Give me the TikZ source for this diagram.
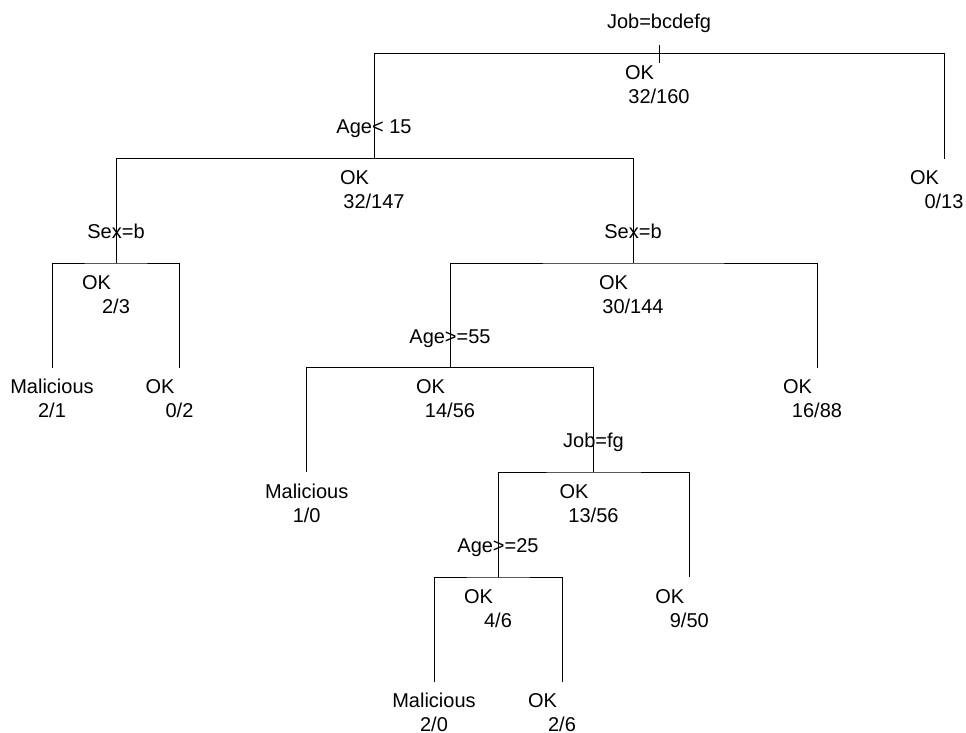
\documentclass[tikz,border=0pt]{standalone}
\usepackage{fontspec}
\setmainfont{Liberation Sans}
\begin{document}
\begin{tikzpicture}[x=1pt,y=-1pt,
    edge/.style={draw=black,line width=1pt},
    txt/.style={inner sep=0pt,outer sep=0pt,anchor=base,font=\fontsize{20}{24}\selectfont},
  ]
  \fill[white] (0,0) rectangle (966,733);
  \useasboundingbox (0,0) rectangle (966,733);

  % tree levels, 104.7 units apart
  \def\lA{53.5}\def\lB{158.5}\def\lC{263}\def\lD{367.5}\def\lE{472}\def\lF{577}\def\lG{681.7}

  % split points and leaves
  \coordinate (root) at (659,\lA);
  \coordinate (age15) at (374,\lB);
  \coordinate (leafR) at (944,\lB);
  \coordinate (sexL) at (116,\lC);
  \coordinate (sexR) at (633,\lC);
  \coordinate (leafLL) at (52,\lD);
  \coordinate (leafLR) at (179.5,\lD);
  \coordinate (age55) at (450,\lD);
  \coordinate (leaf1688) at (817,\lD);
  \coordinate (leaf10) at (306.7,\lE);
  \coordinate (jobfg) at (593.5,\lE);
  \coordinate (age25) at (498,\lF);
  \coordinate (leaf950) at (689.3,\lF);
  \coordinate (leaf20) at (434,\lG);
  \coordinate (leaf26) at (562,\lG);

  % branches: up from the left child, across, down to the right child
  \draw[edge] (age15) |- (root) -| (leafR);
  \draw[edge] (sexL) |- (age15) -| (sexR);
  \draw[edge] (leafLL) |- (sexL) -| (leafLR);
  \draw[edge] (age55) |- (sexR) -| (leaf1688);
  \draw[edge] (leaf10) |- (age55) -| (jobfg);
  \draw[edge] (age25) |- (jobfg) -| (leaf950);
  \draw[edge] (leaf20) |- (age25) -| (leaf26);
  % root tick
  \coordinate (tickT) at (659,45);
  \coordinate (tickB) at (659,63);
  \draw[edge] (tickT) -- (tickB);

  % split labels
  \node[txt] (s0) at ([yshift=24.5pt]root) {Job=bcdefg};
  \node[txt] (s1) at ([yshift=24.5pt]age15) {Age< 15};
  \node[txt] (s2) at ([yshift=24.5pt]sexL) {Sex=b};
  \node[txt] (s3) at ([yshift=24.5pt]sexR) {Sex=b};
  \node[txt] (s4) at ([yshift=24.5pt]age55) {Age>=55};
  \node[txt] (s5) at ([yshift=24.5pt]jobfg) {Job=fg};
  \node[txt] (s6) at ([yshift=24.5pt]age25) {Age>=25};

  % class labels
  \node[txt] (c0) at ([xshift=-19.5pt,yshift=-26pt]root) {OK};
  \node[txt] (c1) at ([xshift=-19.5pt,yshift=-26pt]age15) {OK};
  \node[txt] (c2) at ([xshift=-19.5pt,yshift=-26pt]leafR) {OK};
  \node[txt] (c3) at ([xshift=-19.5pt,yshift=-26pt]sexL) {OK};
  \node[txt] (c4) at ([xshift=-19.5pt,yshift=-26pt]sexR) {OK};
  \node[txt] (c5) at ([yshift=-26pt]leafLL) {Malicious};
  \node[txt] (c6) at ([xshift=-19.5pt,yshift=-26pt]leafLR) {OK};
  \node[txt] (c7) at ([xshift=-19.5pt,yshift=-26pt]age55) {OK};
  \node[txt] (c8) at ([xshift=-19.5pt,yshift=-26pt]leaf1688) {OK};
  \node[txt] (c9) at ([yshift=-26pt]leaf10) {Malicious};
  \node[txt] (c10) at ([xshift=-19.5pt,yshift=-26pt]jobfg) {OK};
  \node[txt] (c11) at ([xshift=-19.5pt,yshift=-26pt]age25) {OK};
  \node[txt] (c12) at ([xshift=-19.5pt,yshift=-26pt]leaf950) {OK};
  \node[txt] (c13) at ([yshift=-26pt]leaf20) {Malicious};
  \node[txt] (c14) at ([xshift=-19.5pt,yshift=-26pt]leaf26) {OK};

  % counts
  \node[txt] (n0) at ([yshift=-50pt]root) {32/160};
  \node[txt] (n1) at ([yshift=-50pt]age15) {32/147};
  \node[txt] (n2) at ([yshift=-50pt]leafR) {0/13};
  \node[txt] (n3) at ([yshift=-50pt]sexL) {2/3};
  \node[txt] (n4) at ([yshift=-50pt]sexR) {30/144};
  \node[txt] (n5) at ([yshift=-50pt]leafLL) {2/1};
  \node[txt] (n6) at ([yshift=-50pt]leafLR) {0/2};
  \node[txt] (n7) at ([yshift=-50pt]age55) {14/56};
  \node[txt] (n8) at ([yshift=-50pt]leaf1688) {16/88};
  \node[txt] (n9) at ([yshift=-50pt]leaf10) {1/0};
  \node[txt] (n10) at ([yshift=-50pt]jobfg) {13/56};
  \node[txt] (n11) at ([yshift=-50pt]age25) {4/6};
  \node[txt] (n12) at ([yshift=-50pt]leaf950) {9/50};
  \node[txt] (n13) at ([yshift=-50pt]leaf20) {2/0};
  \node[txt] (n14) at ([yshift=-50pt]leaf26) {2/6};
\end{tikzpicture}
\end{document}
